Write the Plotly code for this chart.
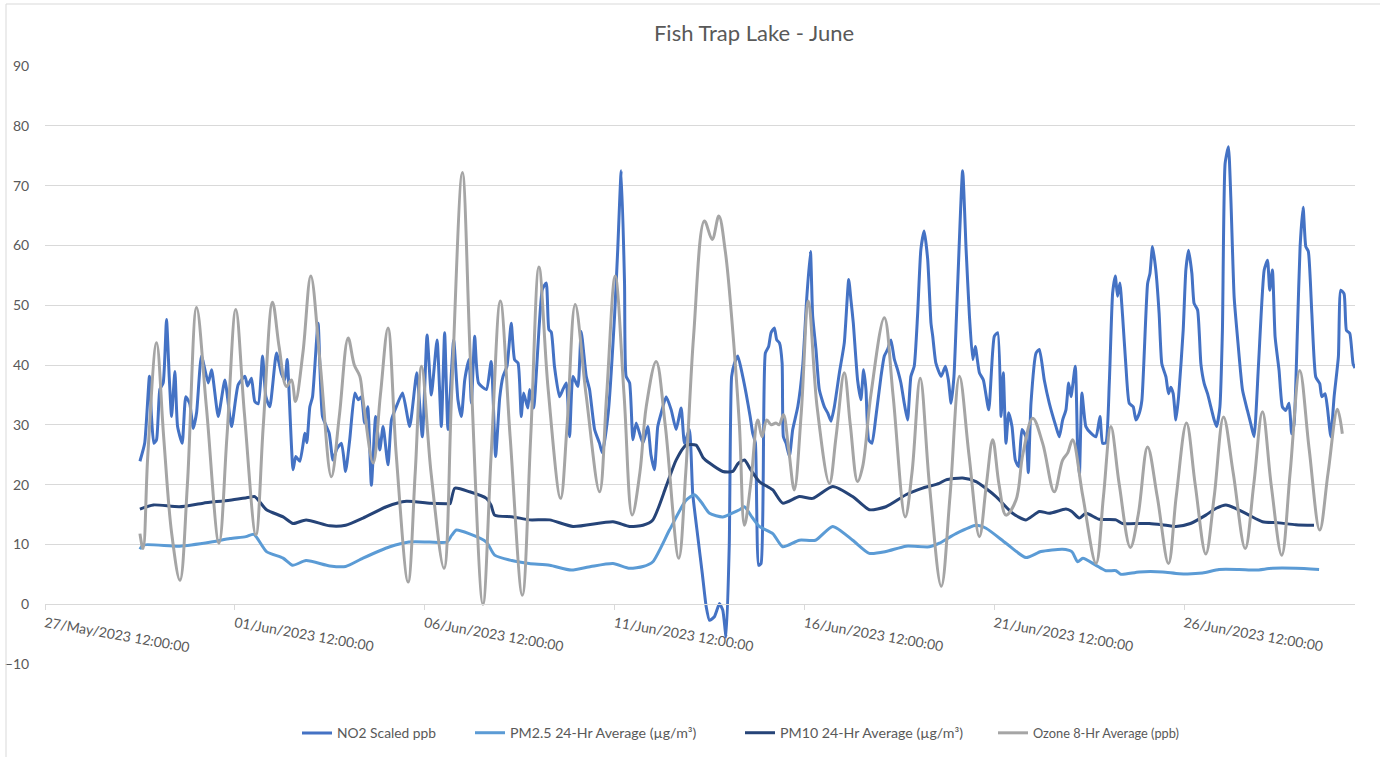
import pandas as pd
import plotly.graph_objects as go

# ---------------- data (hours since 30/May/2023 00:00, value) ----------------
START = "2023-05-30 00:00"

no2_h = [0, 3, 6, 7.3, 8.8, 10.5, 12.6, 14.7, 16.8, 18.5, 20, 22.1, 23.8, 26.7, 29, 31.5, 33.7, 35.8,
         38.9, 43.2, 45.3, 49.5, 53.7, 57.9, 62.1, 66.4, 68, 70.5, 72.6, 74.8, 77.5, 79.6, 82.1, 86.3,
         89.5, 91.6, 93.1, 96.8, 98.5, 101.1, 104.3, 105.5, 107.4, 109.1, 112.6, 115.4, 119.6, 122,
         124.5, 127.4, 130, 132.6, 135.8, 138, 140, 142, 144, 146.3, 149, 151.6, 153.7, 156.8, 159,
         162, 166, 170.5, 175, 178.5, 181.5, 184.2, 187.8, 190.5, 192.6, 194.7, 198.3, 201, 203.2,
         205.3, 208, 209.5, 211.6, 214, 219, 222, 224.8, 227.4, 229.5, 232, 234.7, 236.8, 239, 241,
         242.5, 245.2, 246.3, 248.8, 254.3, 256.8, 258.5, 260, 262, 265.2, 267.5, 269.5, 271.6, 273.7,
         276.8, 278.9, 282.1, 284.2, 287.4, 290.5, 292.2, 296, 300, 302, 304.2, 306.3, 307.3, 309.5,
         311.6, 313.7, 317.9, 321, 323, 325.2, 327.3, 329.5, 332.6, 335.8, 338.9, 342.1, 344.2, 347.3,
         349.4, 352.6, 355.5, 357.9, 360, 363.1, 366.3, 368.4, 370.5, 372.5, 374, 375.8, 377.9, 381,
         383.1, 385.7, 387.3, 389, 391.1, 392.6, 395.3, 397.4, 398.9, 401, 402.5, 404.2, 405.9, 406.7,
         408.4, 410.5, 412.6, 415.8, 418.9, 421.4, 423.8, 425.2, 427.3, 429.4, 432.6, 434.7, 436.8,
         438.9, 442.1, 445.2, 448, 449.4, 450.9, 453.6, 455.7, 457.4, 458.9, 460.6, 462.7, 465.2,
         468.4, 470.5, 472.6, 474.7, 476.8, 478.9, 481, 483.1, 485.2, 487.3, 489.4, 491.5, 493.6,
         495.7, 497.9, 500, 501.1, 503.1, 506.4, 509.1, 511, 512.7, 514.5, 516.9, 520, 522.2, 524.3,
         526.4, 528, 530.6, 533.1, 536.5, 540, 542.2, 544.3, 545.7, 547.4, 549.1, 551.2, 553.3, 555.4,
         557.5, 560, 561.5, 563.2, 566.4, 568.5, 571.6, 574.8, 579, 581.1, 583.2, 585.3, 587, 588.5,
         591.2, 592.7, 593.8, 595.4, 597.9, 601.1, 604.3, 606.8, 608.5, 610.5, 612.7, 614.8, 616.5,
         617.9, 619.4, 621.1, 623.2, 625.3, 627.8, 629.5, 631.6, 633.3, 636.9, 638.4, 640, 642.1,
         644.2, 645.9, 648.5, 650.1, 651.6, 653.1, 654.8, 656.5, 659.4, 661.1, 662.8, 664.9, 666.3,
         668.5, 670.6, 672.7, 674.8, 676.9, 679, 680.5, 682.6, 684.2, 685.9, 688, 689.5, 691.6, 693.7,
         696.9, 700, 702.1, 704.2, 707, 710.6, 712.7, 714.1, 715.8, 717.5, 720, 722.1, 724.2, 726.3,
         728, 729.5, 731.6, 733.3, 735.2, 736.9, 738.5, 740.7, 743.2, 745.7, 747, 749.1, 750.5, 752.7,
         754.8, 757.5, 759, 761.1, 762.6, 764.7, 766.8, 768]
no2_v = [23.9, 26.9, 38.1, 31.4, 26.9, 27.5, 35.9, 37, 47.6, 38.1, 31.4, 38.9, 29.7, 26.9, 34.7, 33.5, 29.4, 32,
         41.5, 37, 39.2, 31.4, 37.5, 29.7, 36.7, 38.1, 36.5, 37.8, 33.9, 33.5, 41.5, 34.7, 33, 42,
         38.5, 37.5, 40.9, 22.5, 24.7, 23.9, 28.6, 27, 33, 34.7, 47, 31.4, 28.6, 24.1,
         26, 26.9, 22.2, 27.5, 35.3, 34.2, 34.7, 30.3, 33, 19.9, 31.4, 25.8, 29.7, 23.3, 30.8,
         33, 35.3, 29.7, 38.7, 28, 45, 35, 44.2, 29.7, 45.4, 29.2, 44.2, 34.2, 31.4,
         37.5, 40.9, 33.6, 44.8, 37, 35.9, 40.6, 24.7, 34.5, 38.1, 39.8, 47, 40.9, 40.3, 31.4,
         35.3, 32.8, 35.9, 32.8, 52.6, 53.7, 45.9, 45.5, 39.8, 34.7, 36, 37, 28, 38.1,
         36.4, 45.6, 38.1, 35.9, 29.2, 26.9, 25.3, 32, 48.2, 59.3, 72.5, 53.7, 38.1, 37,
         27.5, 30.3, 26.9, 29.7, 25, 22.5, 29.7, 32, 34.7, 32.5, 29.2, 32.8, 26.9, 29.2,
         18.5, 11.3, 5, -0.4, -2.7, -2.1, 0.1, -1, -5.5, 10, 38.1, 40.3, 41.5, 38.1,
         35.3, 31.4, 28.6, 27, 6.5, 6.8, 42, 43.1, 45.4, 46.2, 44.2, 43.7, 40.3, 28,
         26.9, 24.7, 29.2, 33, 39.8, 50.9, 59, 48.2, 42.6, 35.9, 33, 32, 30.6,
         33, 38.7, 43.7, 54.3, 50.9, 47, 37.5, 34.2, 39.2, 35.9, 27.5, 26.9, 31.4,
         38.1, 41.5, 42.6, 44.2, 41, 39.2, 37, 33.6, 30.8, 38.1, 39.8, 48.2, 59.3,
         62.4, 57.7, 47, 44.8, 40.3, 38.1, 39.8, 37.5, 33.6, 38, 53.7, 72.5, 59.3, 48.2,
         40.9, 43.1, 38.7, 37.5, 32.5, 44.8, 45.4, 31.4, 38.7, 26.9, 32, 29.7, 24.1, 23,
         29.2, 28, 22, 33.6, 42, 42.6, 37.5, 33.6, 29.7, 28, 30.8, 32.5, 37, 34.7,
         39.8, 25.8, 21.5, 35.3, 29.7, 28.6, 28, 31.4, 26.9, 27, 37, 52, 54.9,
         51.5, 53.7, 48.2, 39.8, 33.6, 33, 30.8, 31.9, 34.1, 53.6, 55.3, 59.8, 55.9,
         48.6, 40.2, 38, 35.2, 36.3, 35.2, 30.8, 34.7, 45.8, 55.9, 59.2, 55.3, 50.3,
         49.2, 40.2, 36.9, 35.2, 33, 30.8, 29.7, 33, 45.8, 73.7, 76.5, 68.1, 51.4, 44.7,
         35.8, 32.4, 30.2, 28, 40, 55.9, 57.5, 52.5, 55.9, 44.7, 39.1, 33, 32.4, 33.6,
         28.5, 30.2, 45.8, 59.8, 66.4, 59.8, 59, 48.7, 38, 36.9, 34.7, 35.2, 33, 28,
         34.7, 41.4, 52.5, 51.9, 45.8, 45.3, 40.2, 39.5]

pm25_h = [0, 2, 25, 45, 57, 67, 72, 80, 90.5, 96.5, 105, 120, 130, 141, 158, 170, 183, 194, 197, 200,
          208, 219, 224.2, 235, 246, 259, 272.6, 285, 299, 309.5, 318, 324.2, 334.7, 345.2, 350.5, 355,
          360, 368.4, 374, 379, 382.1, 387, 391.5, 400, 406.3, 416.8, 427, 437.9, 450.5, 461, 471.5,
          484.2, 499, 505.3, 515.8, 528.5, 534.8, 547.4, 560, 569.5, 583.2, 589, 592.7, 596, 604.3,
          610.6, 617, 620, 631.6, 646.4, 656.9, 671.6, 682.1, 694.8, 705.3, 715.8, 730.6, 745.3]
pm25_v = [9.2, 9.9, 9.7, 10.4, 11, 11.3, 11.7, 8.8, 7.7, 6.5, 7.3, 6.4, 6.3, 7.7, 9.6, 10.4, 10.4, 10.4, 11.5, 12.4,
          11.8, 10.4, 8.2, 7.3, 6.8, 6.5, 5.7, 6.3, 6.8, 6, 6.3, 7.1, 12.4, 17.4, 18.3, 17,
          15.2, 14.6, 15.2, 15.8, 16.3, 14.5, 13, 11.8, 9.6, 10.7, 10.7, 13, 10.7, 8.5, 8.8,
          9.7, 9.6, 10.2, 11.8, 13.2, 12.7, 10.2, 7.8, 8.8, 9.2, 8.8, 7.1, 7.7, 6.5,
          5.6, 5.6, 5, 5.4, 5.4, 5.1, 5.2, 5.8, 5.8, 5.7, 6, 6, 5.8]

pm10_h = [0, 8.5, 25, 40, 56.8, 69.5, 72.6, 80, 90.5, 96.8, 105, 120, 130, 141, 155.8, 168.4, 183, 193.7,
          196, 199, 208.4, 219, 222, 224.2, 235.8, 246.3, 259, 273.7, 299, 309.5, 317.9, 324.2, 332.6,
          338.9, 345.2, 351.5, 356, 360, 368.4, 374.7, 378, 382.1, 386, 391.5, 400, 406.3, 416.8, 425.2,
          437.9, 450.5, 461, 471.5, 484.2, 494.7, 505.2, 509.5, 520, 528.5, 541.1, 551.6, 560, 568.5,
          574.8, 585.3, 589, 593.7, 597.9, 606.4, 616.9, 621.1, 631.6, 638, 646, 654.8, 664, 673.7,
          680, 686.4, 692.7, 701, 709.5, 720, 730.6, 742.1]
pm10_v = [15.9, 16.6, 16.3, 16.9, 17.4, 17.9, 18, 15.8, 14.6, 13.5, 14.1, 13.1, 13.2, 14.4, 16.3, 17.2, 16.9, 16.8,
          16.8, 19.4, 18.8, 17.7, 16.5, 14.9, 14.6, 14.1, 14.1, 13, 13.8, 13, 13.2, 14.1, 19.7,
          24.1, 26.6, 26.6, 24.5, 23.6, 22.2, 22.2, 23.5, 24.1, 22.5, 20.5, 19.1, 16.9, 18, 17.7,
          19.7, 18, 15.8, 16.3, 18.3, 19.4, 20.2, 20.8, 21.1, 20.5, 18, 15.2, 14.1, 15.5,
          15.2, 15.9, 15.5, 14.4, 15.2, 14.2, 14.1, 13.5, 13.5, 13.5, 13.3, 13, 13.5, 14.9,
          16, 16.6, 16, 14.9, 13.8, 13.6, 13.3, 13.2]

o3_h = [0, 2, 5, 10.5, 15, 20, 25.3, 30, 35.8, 42, 50, 55, 60.6, 66, 73.3, 78, 83.8, 88, 92.6, 95.8, 98.3,
        103, 108, 114, 121, 126, 131.6, 135.5, 139, 141, 147.4, 152, 156.8, 162, 169.5, 174, 178, 184,
        192.2, 197, 203.8, 209, 216.8, 222, 227.8, 234, 241.7, 247, 252.2, 258, 265.9, 270, 275.1, 282,
        290.5, 295, 300.4, 306, 311.1, 316, 320, 326.3, 332, 340.6, 345, 350, 356.8, 361.7, 365.9, 370,
        374, 378.9, 382.1, 386, 390.5, 393.2, 396.2, 399, 402, 404, 406.7, 410, 413.6, 418, 422.5, 428,
        435.8, 440, 445.2, 449, 453.6, 456.8, 462, 470.5, 476, 483.7, 488, 493.2, 499, 506.5, 512, 518,
        524, 530.6, 535, 539, 543, 547.4, 553.7, 558, 564.3, 570.6, 577.9, 583.2, 586.4, 589.5, 596,
        604.3, 609, 613.7, 619, 626, 631, 636.9, 643, 650.1, 655, 661.5, 667, 673.7, 679, 684.9, 691,
        698.6, 704, 709.5, 715, 721.7, 727, 733.1, 739, 745.7, 751, 756.9, 760]
o3_v = [11.8, 9.3, 25, 43.7, 28, 12, 4, 20, 49.6, 33, 10.2, 28, 49.3, 32, 11.6, 30, 50.5, 43, 36.4, 37.5, 33.9,
        42, 54.9, 40, 21.3, 31.4, 44.5, 40, 38.1, 34.2, 23.6, 35, 46.2, 25, 3.7, 22, 39.8, 22,
        6, 35, 72.2, 40, 0, 25, 50.7, 28, 1.5, 28, 56.4, 36, 17.7, 30, 50.1, 35,
        18.8, 35, 54.9, 35, 14.9, 22, 33, 40.6, 30, 7.7, 22, 45, 64.1, 61, 64.9, 59,
        48, 30, 13.2, 20, 30.8, 28, 30.8, 30, 30.3, 30, 31.7, 26, 19.1, 32, 50.7, 33,
        20.2, 28, 38.7, 30, 20.5, 23, 35, 47.9, 35, 14.6, 22, 37.8, 20, 3, 18, 38.1,
        25, 11.3, 20, 27.5, 20, 14.9, 17.4, 25, 31.1, 26.9, 18.8, 24.1, 25.3, 27.5, 18,
        6.8, 18, 29.7, 20, 9.5, 15, 26.3, 18, 6.8, 18, 30.3, 20, 8.4, 18, 31.3, 22,
        9.3, 20, 32.2, 20, 8.2, 22, 39.1, 26, 12.4, 22, 32.6, 28.5]

series_names = ["NO2 Scaled ppb", "PM2.5 24-Hr Average (µg/m³)",
                "PM10 24-Hr Average (µg/m³)", "Ozone 8-Hr Average (ppb)"]
series_colors = ["#4472C4", "#5B9BD5", "#264478", "#A5A5A5"]

TITLE = "Fish Trap Lake - June"
X_RANGE = ["2023-05-27 12:00", "2023-07-01 00:00"]
Y_TICKS = list(range(-10, 100, 10))


def to_time(hours):
    return pd.Timestamp(START) + pd.to_timedelta(hours, unit="h")


FONT = "Lato, 'Open Sans', sans-serif"
TXT = "#595959"
GRID = "#D9D9D9"

W, H = 1380, 757
L, R, T, B = 45, 25, 66, 93
pw, ph = W - L - R, H - T - B


def px_x(x):
    return (x - L) / pw


def px_y(y):
    return (H - B - y) / ph


legend_ids = ["legend", "legend2", "legend3", "legend4"]
legend_left_px = [297, 470, 740, 993]
legend_font_sizes = [13.8, 14.2, 14.2, 12.8]

fig = go.Figure()
data = [(no2_h, no2_v, 0.5), (pm25_h, pm25_v, 0.6), (pm10_h, pm10_v, 0.6), (o3_h, o3_v, 1.0)]
for (hh, vv, sm), name, col, lg in zip(data, series_names, series_colors, legend_ids):
    fig.add_trace(go.Scatter(x=to_time(hh), y=vv, mode="lines", name=name, legend=lg,
                             line=dict(color=col, width=3, shape="spline", smoothing=sm)))

legend_cfg = {}
for lg, lx, fs in zip(legend_ids, legend_left_px, legend_font_sizes):
    legend_cfg[lg] = dict(orientation="h", xref="paper", x=px_x(lx), xanchor="left",
                          y=px_y(733), yanchor="middle", font=dict(size=fs, color=TXT, family=FONT),
                          itemwidth=30, bgcolor="rgba(0,0,0,0)", borderwidth=0)

fig.update_layout(
    width=W, height=H,
    margin=dict(l=L, r=R, t=T, b=B, autoexpand=False),
    paper_bgcolor="white", plot_bgcolor="white",
    font=dict(family=FONT, color=TXT, size=13),
    title=dict(text=TITLE, x=754 / W, xref="container", xanchor="center",
               y=1 - 33 / H, yref="container", yanchor="middle",
               font=dict(size=22, color=TXT, family=FONT)),
    showlegend=True,
    xaxis=dict(type="date", range=X_RANGE, tick0=X_RANGE[0], dtick=5 * 86400000,
               tickformat="%d/%b/%Y %H:%M:%S", tickangle=10, automargin=False,
               anchor="free", position=0.1, showline=True, linecolor=GRID, linewidth=1,
               ticks="outside", ticklen=5, tickcolor=GRID, showgrid=False, zeroline=False,
               tickfont=dict(size=14, color=TXT)),
    yaxis=dict(range=[-10, 90], tickvals=Y_TICKS, showgrid=True, gridcolor=GRID, gridwidth=1,
               zeroline=False, showline=False, ticks="outside", ticklen=12, automargin=False,
               tickcolor="rgba(0,0,0,0)", tickfont=dict(size=14, color=TXT)),
    shapes=[
        dict(type="line", xref="paper", yref="paper", x0=px_x(6), x1=px_x(1400),
             y0=px_y(4), y1=px_y(4), line=dict(color=GRID, width=1)),
        dict(type="line", xref="paper", yref="paper", x0=px_x(6), x1=px_x(6),
             y0=px_y(4), y1=px_y(780), line=dict(color=GRID, width=1)),
    ],
    **legend_cfg,
)

fig.write_html("out.html", config={"displayModeBar": False},
               post_script="document.body.style.margin='0';")
